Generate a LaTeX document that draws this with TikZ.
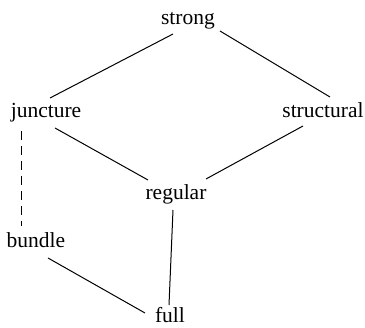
\documentclass[tikz,border=0pt]{standalone}
\usepackage{fontspec}
\setmainfont{Liberation Serif}
\begin{document}
\begin{tikzpicture}[x=1pt,y=-1pt,
  lbl/.style={anchor=base,inner sep=0pt,font=\fontsize{21.5}{24}\selectfont},
  edge/.style={line width=1pt},
  dedge/.style={line width=1pt,dash pattern=on 9pt off 6pt}]
\useasboundingbox (0,0) rectangle (365,328);
\node[lbl] (strong) at (188,25) {strong};
\node[lbl] (juncture) at (46,118) {juncture};
\node[lbl] (structural) at (323,118) {structural};
\node[lbl] (regular) at (176,200) {regular};
\node[lbl] (bundle) at (36,248) {bundle};
\node[lbl] (full) at (170,323) {full};
\draw[edge] ([shift={(-15,9)}]strong.base) -- ([shift={(4,-20)}]juncture.base);
\draw[edge] ([shift={(32,6)}]strong.base) -- ([shift={(7,-21)}]structural.base);
\draw[edge] ([shift={(9,10)}]juncture.base) -- ([shift={(-28,-20)}]regular.base);
\draw[edge] ([shift={(-20,8)}]structural.base) -- ([shift={(30,-21)}]regular.base);
\draw[dedge] ([shift={(-25,13)}]juncture.base) -- ([shift={(-15,-22)}]bundle.base);
\draw[edge] ([shift={(-3,10)}]regular.base) -- ([shift={(-1,-18)}]full.base);
\draw[edge] ([shift={(12,10)}]bundle.base) -- ([shift={(-25,-10)}]full.base);
\end{tikzpicture}
\end{document}
